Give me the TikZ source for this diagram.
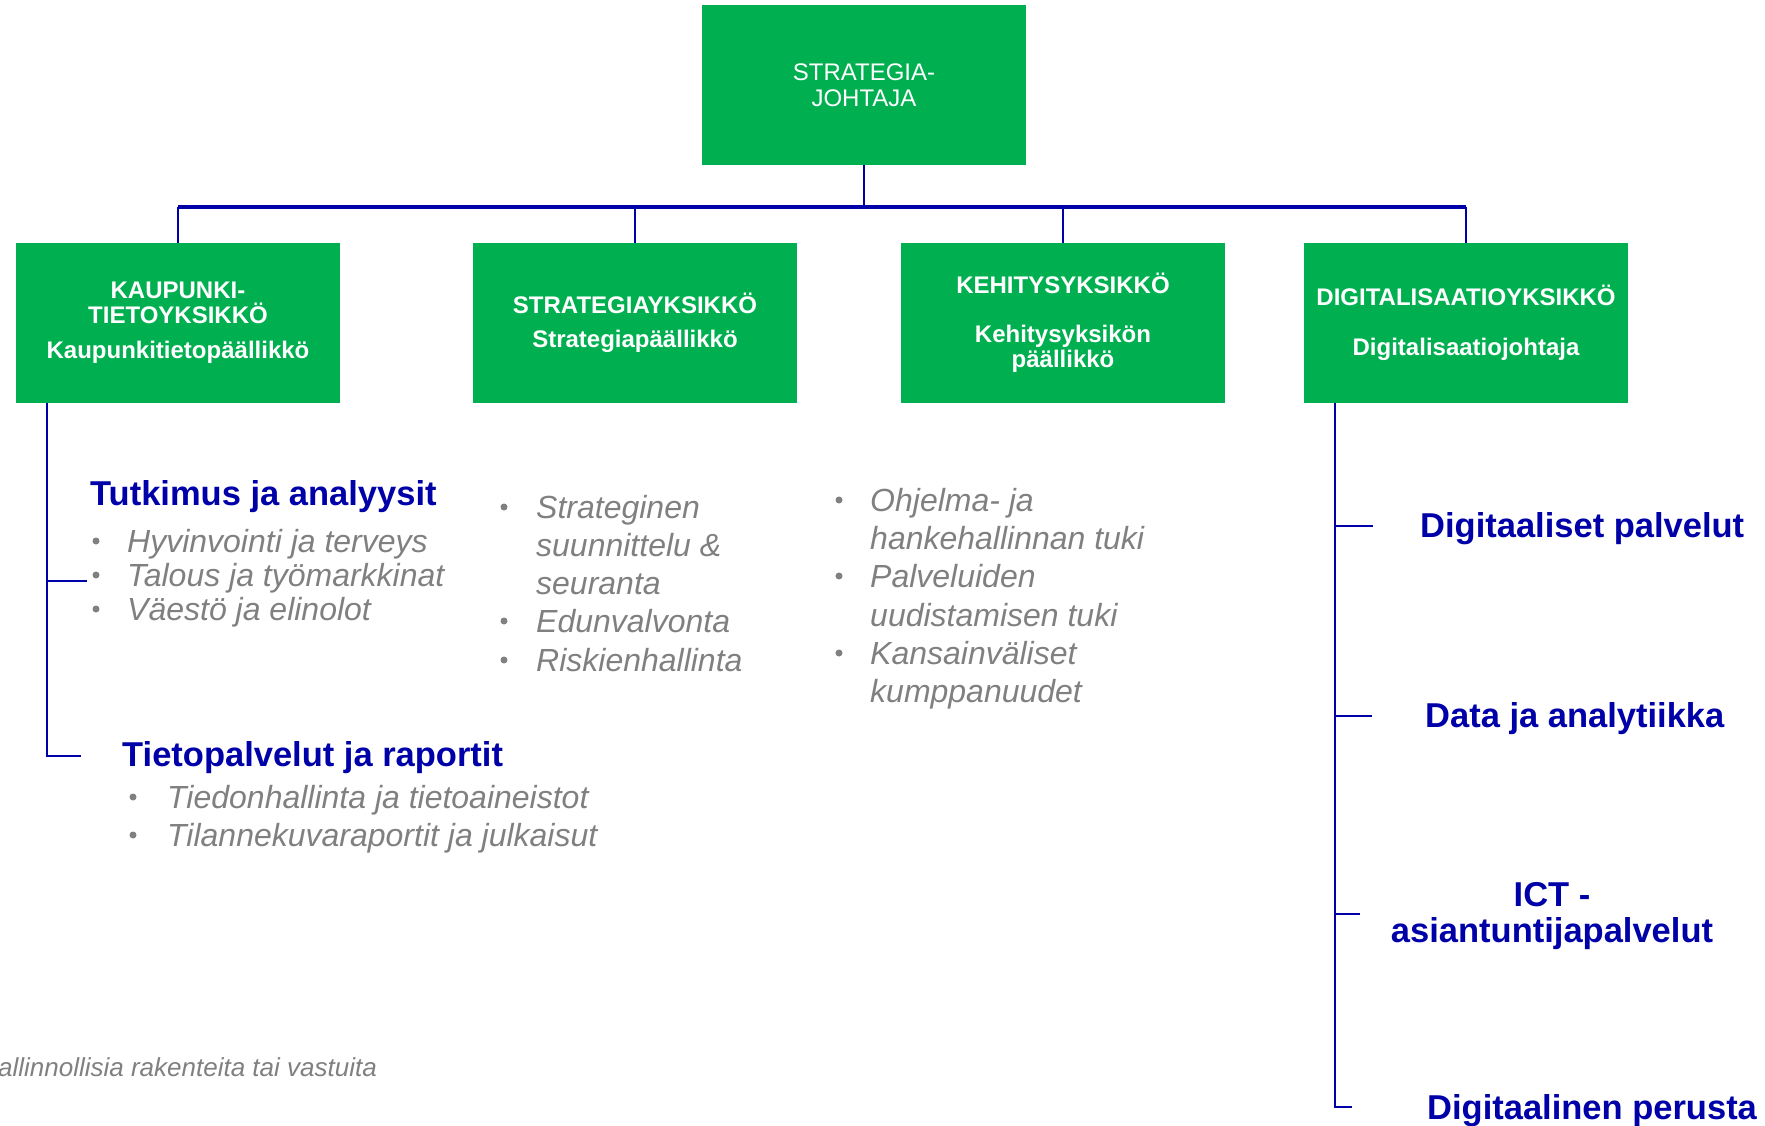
\documentclass[tikz,border=0pt]{standalone}
\usepackage{fontspec}
\setmainfont{Liberation Sans}
\usetikzlibrary{positioning}
\definecolor{orggreen}{HTML}{00B050}
\definecolor{orgblue}{HTML}{0000A8}
\definecolor{orggrey}{HTML}{808080}

\begin{document}
\begin{tikzpicture}[x=1pt,y=-1pt,
    unit/.style={fill=orggreen,minimum width=324pt,minimum height=160pt,inner sep=0pt,
      text=white,align=center,font=\fontsize{24}{25}\selectfont\bfseries},
    conn/.style={orgblue,line width=2.5pt},
    area/.style={orgblue,font=\fontsize{34.5}{36}\selectfont\bfseries,inner sep=0pt},
    task/.style={orggrey,font=\fontsize{32}{38}\selectfont\itshape,anchor=mid west,inner sep=0pt,yshift=-9pt},
    dot/.style={circle,fill=orggrey,minimum size=7pt,inner sep=0pt}]
    \useasboundingbox (0,0) rectangle (1765,1126);
    % top level
    \node[unit,font=\fontsize{24}{26}\selectfont] (chief) at (864,85) {STRATEGIA-\\JOHTAJA};
    % units
    \node[unit] (kaupunki) at (178,323) {KAUPUNKI-\\TIETOYKSIKKÖ\\[10pt]Kaupunkitietopäällikkö};
    \node[unit] (strategia) at (635,323) {STRATEGIAYKSIKKÖ\\[9pt]Strategiapäällikkö};
    \node[unit] (kehitys) at (1063,323) {KEHITYSYKSIKKÖ\\[24pt]Kehitysyksikön\\päällikkö};
    \node[unit] (digi) at (1466,323) {DIGITALISAATIOYKSIKKÖ\\[25pt]Digitalisaatiojohtaja};
    % tree
    \coordinate (hub) at (864,207);
    \draw[conn] (chief.south) -- (hub);
    \draw[conn,line width=3.5pt] (kaupunki.north |- hub) -- (digi.north |- hub);
    \foreach \u in {kaupunki,strategia,kehitys,digi}
      \draw[conn] (\u.north |- hub) -- (\u.north);

    % kaupunkitieto
    \node[area,anchor=mid west,yshift=-9pt] (tutkimus) at (90,494) {Tutkimus ja analyysit};
    \foreach \t/\y in {Hyvinvointi ja terveys/541,Talous ja työmarkkinat/575,Väestö ja elinolot/609}{
      \node[dot] at (96,\y) {};
      \node[task] at (127,\y) {\t};
    }
    \node[area,anchor=mid west,yshift=-9pt] (tietopalv) at (122,755) {Tietopalvelut ja raportit};
    \foreach \t/\y in {Tiedonhallinta ja tietoaineistot/797,Tilannekuvaraportit ja julkaisut/835}{
      \node[dot] at (133,\y) {};
      \node[task] at (167,\y) {\t};
    }
    \coordinate (lb) at ([xshift=31pt]kaupunki.south west);
    \coordinate (lt1) at (87,581);
    \coordinate (lt2) at (81,756);
    \draw[conn] (lb) |- (lt2);
    \draw[conn] (lb |- lt1) -- (lt1);

    % strategia
    \foreach \y in {507,621,660}
      \node[dot] at (504,\y) {};
    \foreach \t/\y in {Strateginen/507,suunnittelu \&/545,seuranta/583,Edunvalvonta/621,Riskienhallinta/660}
      \node[task] at (536,\y) {\t};

    % kehitys
    \foreach \y in {500,576,653}
      \node[dot] at (839,\y) {};
    \foreach \t/\y in {Ohjelma- ja/500,hankehallinnan tuki/538,Palveluiden/576,uudistamisen tuki/615,Kansainväliset/653,kumppanuudet/691}
      \node[task] at (870,\y) {\t};

    % digitalisaatio
    \node[area,anchor=mid west,yshift=-9pt] (dpalv) at (1420,526) {Digitaaliset palvelut};
    \node[area,anchor=mid west,yshift=-9pt] (data) at (1425,716) {Data ja analytiikka};
    \node[area,align=center,yshift=-3pt] (ict) at (1552,913) {ICT -\\asiantuntijapalvelut};
    \node[area,anchor=mid west,yshift=-9pt] (perusta) at (1427,1108) {Digitaalinen perusta};
    \coordinate (rb) at ([xshift=31pt]digi.south west);
    \coordinate (rt1) at (1373,526);
    \coordinate (rt2) at (1372,716);
    \coordinate (rt3) at (1360,914);
    \coordinate (rt4) at (1352,1107);
    \draw[conn] (rb) |- (rt4);
    \foreach \c in {rt1,rt2,rt3}
      \draw[conn] (rb |- \c) -- (\c);

    % footnote
    \node[orggrey,font=\fontsize{26}{26}\selectfont\itshape,anchor=mid west,inner sep=0pt,yshift=-7pt] (note) at (-2,1067) {allinnollisia rakenteita tai vastuita};
\end{tikzpicture}
\end{document}
